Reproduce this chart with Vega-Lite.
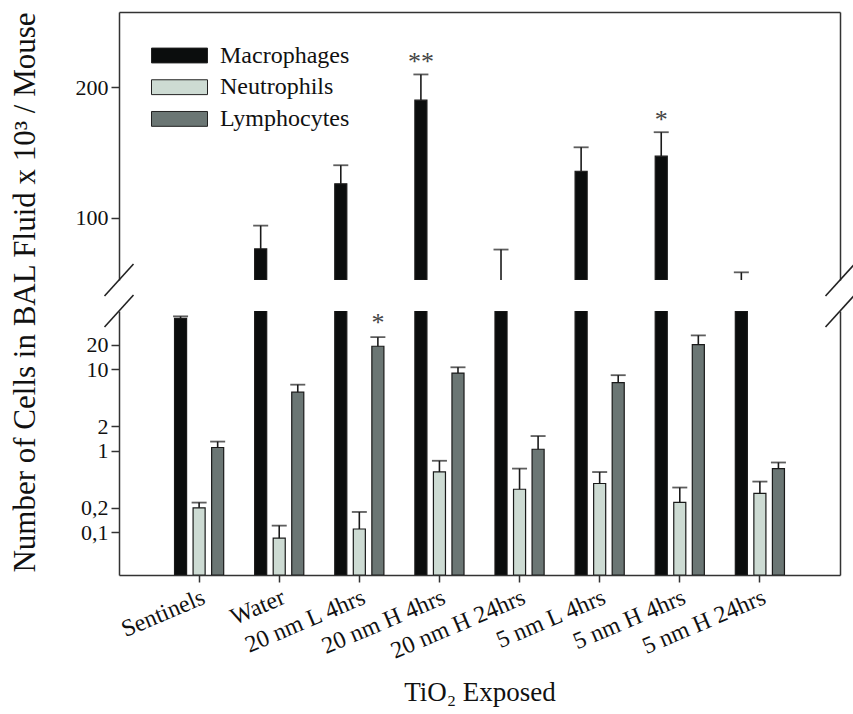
{
  "$schema": "https://vega.github.io/schema/vega-lite/v6.json",
  "padding": {"left": 8, "top": 11, "right": 0, "bottom": 5},
  "background": "white",
  "bounds": "flush",
  "config": {
    "font": "Liberation Serif",
    "view": {"stroke": null},
    "axis": {
      "grid": false,
      "domainColor": "#333333",
      "domainWidth": 1.5,
      "tickColor": "#333333",
      "tickWidth": 1.5,
      "labelFont": "Liberation Serif",
      "labelColor": "#111111",
      "titleFont": "Liberation Serif",
      "titleColor": "#111111",
      "titleFontWeight": "normal"
    },
    "legend": {
      "labelFont": "Liberation Serif",
      "labelFontSize": 24,
      "labelColor": "#111111",
      "symbolType": "M-2,-0.53H2V0.53H-2Z",
      "symbolSize": 784,
      "symbolStrokeColor": "#222222",
      "symbolStrokeWidth": 1,
      "symbolOpacity": 1,
      "labelOffset": 26,
      "rowPadding": 4.7,
      "padding": 0
    }
  },
  "datasets": {
    "cells": [
      {"group": "Sentinels", "cell": "Macrophages", "value": 42.2, "hi": 44.7, "sig": ""},
      {"group": "Sentinels", "cell": "Neutrophils", "value": 0.2, "hi": 0.232, "sig": ""},
      {"group": "Sentinels", "cell": "Lymphocytes", "value": 1.1, "hi": 1.3, "sig": ""},
      {"group": "Water", "cell": "Macrophages", "value": 75.9, "hi": 93.8, "sig": ""},
      {"group": "Water", "cell": "Neutrophils", "value": 0.085, "hi": 0.121, "sig": ""},
      {"group": "Water", "cell": "Lymphocytes", "value": 5.25, "hi": 6.49, "sig": ""},
      {"group": "20 nm L 4hrs", "cell": "Macrophages", "value": 125.9, "hi": 140.2, "sig": ""},
      {"group": "20 nm L 4hrs", "cell": "Neutrophils", "value": 0.11, "hi": 0.178, "sig": ""},
      {"group": "20 nm L 4hrs", "cell": "Lymphocytes", "value": 19.2, "hi": 24.8, "sig": "*"},
      {"group": "20 nm H 4hrs", "cell": "Macrophages", "value": 190.2, "hi": 210, "sig": "**"},
      {"group": "20 nm H 4hrs", "cell": "Neutrophils", "value": 0.551, "hi": 0.756, "sig": ""},
      {"group": "20 nm H 4hrs", "cell": "Lymphocytes", "value": 9.0, "hi": 10.6, "sig": ""},
      {"group": "20 nm H 24hrs", "cell": "Macrophages", "value": 51.9, "hi": 75.4, "sig": ""},
      {"group": "20 nm H 24hrs", "cell": "Neutrophils", "value": 0.338, "hi": 0.606, "sig": ""},
      {"group": "20 nm H 24hrs", "cell": "Lymphocytes", "value": 1.047, "hi": 1.52, "sig": ""},
      {"group": "5 nm L 4hrs", "cell": "Macrophages", "value": 135.6, "hi": 154, "sig": ""},
      {"group": "5 nm L 4hrs", "cell": "Neutrophils", "value": 0.398, "hi": 0.55, "sig": ""},
      {"group": "5 nm L 4hrs", "cell": "Lymphocytes", "value": 6.88, "hi": 8.48, "sig": ""},
      {"group": "5 nm H 4hrs", "cell": "Macrophages", "value": 147.2, "hi": 165.6, "sig": "*"},
      {"group": "5 nm H 4hrs", "cell": "Neutrophils", "value": 0.233, "hi": 0.355, "sig": ""},
      {"group": "5 nm H 4hrs", "cell": "Lymphocytes", "value": 20.1, "hi": 26.1, "sig": ""},
      {"group": "5 nm H 24hrs", "cell": "Macrophages", "value": 51.9, "hi": 57.9, "sig": ""},
      {"group": "5 nm H 24hrs", "cell": "Neutrophils", "value": 0.301, "hi": 0.42, "sig": ""},
      {"group": "5 nm H 24hrs", "cell": "Lymphocytes", "value": 0.606, "hi": 0.72, "sig": ""}
    ]
  },
  "spacing": 31,
  "vconcat": [
    {
      "width": 721,
      "height": 268,
      "resolve": {"scale": {"x": "independent"}, "axis": {"y": "independent"}},
      "layer": [
        {
          "data": {"name": "cells"},
          "encoding": {
            "x": {"field": "group", "type": "nominal", "sort": ["Sentinels", "Water", "20 nm L 4hrs", "20 nm H 4hrs", "20 nm H 24hrs", "5 nm L 4hrs", "5 nm H 4hrs", "5 nm H 24hrs"], "scale": {"paddingInner": 0, "paddingOuter": 0.5}, "axis": {"orient": "top", "labels": false, "ticks": false, "title": null, "domain": true}},
            "xOffset": {"field": "cell", "type": "nominal", "sort": ["Macrophages", "Neutrophils", "Lymphocytes"], "scale": {"paddingInner": 0.35, "paddingOuter": 0.835}}
          },
          "layer": [
            {
              "transform": [{"filter": "datum.value >= 52"}],
              "mark": {"type": "bar", "clip": true, "stroke": "#1a1a1a", "strokeWidth": 1.2},
              "encoding": {
                "y": {"field": "value", "type": "quantitative", "stack": null, "scale": {"domain": [52, 258], "nice": false, "zero": false}, "axis": {"values": [100, 200], "title": null, "tickSize": 8, "labelFontSize": 22, "labelPadding": 3}},
                "color": {"field": "cell", "type": "nominal", "sort": ["Macrophages", "Neutrophils", "Lymphocytes"], "scale": {"domain": ["Macrophages", "Neutrophils", "Lymphocytes"], "range": ["#0b0d0d", "#cddbd3", "#6b7674"]}, "legend": {"orient": "none", "legendX": 46, "legendY": 29, "title": null}}
              }
            },
            {
              "mark": {"type": "rule", "clip": true, "color": "#1a1a1a", "strokeWidth": 1.6},
              "encoding": {
                "y": {"field": "value", "type": "quantitative", "stack": null, "scale": {"domain": [52, 258], "nice": false, "zero": false}, "axis": {"values": [100, 200], "title": null, "tickSize": 8, "labelFontSize": 22, "labelPadding": 3}},
                "y2": {"field": "hi"}
              }
            },
            {
              "mark": {"type": "tick", "orient": "horizontal", "clip": true, "color": "#1a1a1a", "size": 15, "thickness": 1.8},
              "encoding": {"y": {"field": "hi", "type": "quantitative", "scale": {"domain": [52, 258], "nice": false, "zero": false}, "axis": {"values": [100, 200], "title": null, "tickSize": 8, "labelFontSize": 22, "labelPadding": 3}}}
            },
            {
              "transform": [{"filter": "datum.sig != ''"}],
              "mark": {"type": "text", "clip": true, "fontSize": 26, "color": "#444444", "baseline": "alphabetic", "dy": -4},
              "encoding": {
                "y": {"field": "hi", "type": "quantitative", "scale": {"domain": [52, 258], "nice": false, "zero": false}, "axis": {"values": [100, 200], "title": null, "tickSize": 8, "labelFontSize": 22, "labelPadding": 3}},
                "text": {"field": "sig"}
              }
            }
          ]
        },
        {
          "data": {"values": [{}]},
          "mark": {"type": "point", "shape": "M-1,1.1L1,-1.1", "size": 841, "filled": false, "stroke": "#222222", "strokeWidth": 1.6, "opacity": 1},
          "encoding": {
            "x": {"datum": 0, "type": "quantitative", "scale": {"domain": [0, 1]}, "axis": null},
            "y": {"datum": 52, "type": "quantitative", "scale": {"domain": [52, 258], "nice": false, "zero": false}, "axis": null}
          }
        },
        {
          "data": {"values": [{}]},
          "mark": {"type": "point", "shape": "M-1,1.1L1,-1.1", "size": 841, "filled": false, "stroke": "#222222", "strokeWidth": 1.6, "opacity": 1},
          "encoding": {
            "x": {"datum": 1, "type": "quantitative", "scale": {"domain": [0, 1]}, "axis": null},
            "y": {"datum": 52, "type": "quantitative", "scale": {"domain": [52, 258], "nice": false, "zero": false}, "axis": {"orient": "right", "labels": false, "ticks": false, "title": null, "domain": true}}
          }
        }
      ]
    },
    {
      "width": 721,
      "height": 264,
      "resolve": {"scale": {"x": "independent"}, "axis": {"y": "independent"}},
      "layer": [
        {
          "data": {"name": "cells"},
          "encoding": {
            "x": {"field": "group", "type": "nominal", "sort": ["Sentinels", "Water", "20 nm L 4hrs", "20 nm H 4hrs", "20 nm H 24hrs", "5 nm L 4hrs", "5 nm H 4hrs", "5 nm H 24hrs"], "scale": {"paddingInner": 0, "paddingOuter": 0.5}, "axis": {"orient": "bottom", "labelAngle": -23, "labelFontSize": 24, "tickSize": 7, "labelPadding": 3, "title": "TiO₂ Exposed", "titleFontSize": 27, "titlePadding": 16}},
            "xOffset": {"field": "cell", "type": "nominal", "sort": ["Macrophages", "Neutrophils", "Lymphocytes"], "scale": {"paddingInner": 0.35, "paddingOuter": 0.835}}
          },
          "layer": [
            {
              "mark": {"type": "bar", "clip": true, "stroke": "#1a1a1a", "strokeWidth": 1.2},
              "encoding": {
                "y": {"field": "value", "type": "quantitative", "stack": null, "scale": {"type": "log", "domain": [0.03, 52], "nice": false}, "axis": {"values": [0.1, 0.2, 1, 2, 10, 20], "format": "~g", "labelExpr": "replace(datum.label, '.', ',')", "title": "Number of Cells in BAL Fluid x 10³ / Mouse", "titleFontSize": 31, "titleX": -78, "titleY": -19, "tickSize": 8, "labelFontSize": 22, "labelPadding": 3}},
                "color": {"field": "cell", "type": "nominal", "sort": ["Macrophages", "Neutrophils", "Lymphocytes"], "scale": {"domain": ["Macrophages", "Neutrophils", "Lymphocytes"], "range": ["#0b0d0d", "#cddbd3", "#6b7674"]}, "legend": {"orient": "none", "legendX": 46, "legendY": 29, "title": null}}
              }
            },
            {
              "mark": {"type": "rule", "clip": true, "color": "#1a1a1a", "strokeWidth": 1.6},
              "encoding": {
                "y": {"field": "value", "type": "quantitative", "stack": null, "scale": {"type": "log", "domain": [0.03, 52], "nice": false}, "axis": {"values": [0.1, 0.2, 1, 2, 10, 20], "format": "~g", "labelExpr": "replace(datum.label, '.', ',')", "title": "Number of Cells in BAL Fluid x 10³ / Mouse", "titleFontSize": 31, "titleX": -78, "titleY": -19, "tickSize": 8, "labelFontSize": 22, "labelPadding": 3}},
                "y2": {"field": "hi"}
              }
            },
            {
              "mark": {"type": "tick", "orient": "horizontal", "clip": true, "color": "#1a1a1a", "size": 15, "thickness": 1.8},
              "encoding": {"y": {"field": "hi", "type": "quantitative", "scale": {"type": "log", "domain": [0.03, 52], "nice": false}, "axis": {"values": [0.1, 0.2, 1, 2, 10, 20], "format": "~g", "labelExpr": "replace(datum.label, '.', ',')", "title": "Number of Cells in BAL Fluid x 10³ / Mouse", "titleFontSize": 31, "titleX": -78, "titleY": -19, "tickSize": 8, "labelFontSize": 22, "labelPadding": 3}}}
            },
            {
              "transform": [{"filter": "datum.sig != ''"}],
              "mark": {"type": "text", "clip": true, "fontSize": 26, "color": "#444444", "baseline": "alphabetic", "dy": -6},
              "encoding": {
                "y": {"field": "hi", "type": "quantitative", "scale": {"type": "log", "domain": [0.03, 52], "nice": false}, "axis": {"values": [0.1, 0.2, 1, 2, 10, 20], "format": "~g", "labelExpr": "replace(datum.label, '.', ',')", "title": "Number of Cells in BAL Fluid x 10³ / Mouse", "titleFontSize": 31, "titleX": -78, "titleY": -19, "tickSize": 8, "labelFontSize": 22, "labelPadding": 3}},
                "text": {"field": "sig"}
              }
            }
          ]
        },
        {
          "data": {"values": [{}]},
          "mark": {"type": "point", "shape": "M-1,1.1L1,-1.1", "size": 841, "filled": false, "stroke": "#222222", "strokeWidth": 1.6, "opacity": 1},
          "encoding": {
            "x": {"datum": 0, "type": "quantitative", "scale": {"domain": [0, 1]}, "axis": null},
            "y": {"datum": 52, "type": "quantitative", "scale": {"type": "log", "domain": [0.03, 52], "nice": false}, "axis": null}
          }
        },
        {
          "data": {"values": [{}]},
          "mark": {"type": "point", "shape": "M-1,1.1L1,-1.1", "size": 841, "filled": false, "stroke": "#222222", "strokeWidth": 1.6, "opacity": 1},
          "encoding": {
            "x": {"datum": 1, "type": "quantitative", "scale": {"domain": [0, 1]}, "axis": null},
            "y": {"datum": 52, "type": "quantitative", "scale": {"type": "log", "domain": [0.03, 52], "nice": false}, "axis": {"orient": "right", "labels": false, "ticks": false, "title": null, "domain": true}}
          }
        }
      ]
    }
  ]
}
